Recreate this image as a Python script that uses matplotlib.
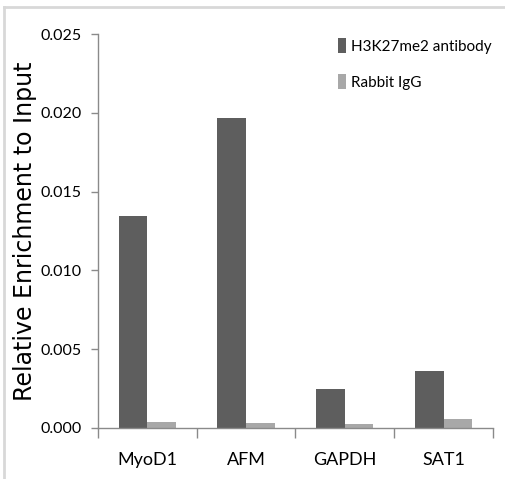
import numpy as np
import matplotlib
matplotlib.use('Agg')
import matplotlib.pyplot as plt
from matplotlib.lines import Line2D

# data
genes = ['MyoD1', 'AFM', 'GAPDH', 'SAT1']
h3k27me2 = [0.01345, 0.01966, 0.0025, 0.0036]
rabbitIgG = [0.00038, 0.00032, 0.00028, 0.0006]
yticks = [0.000, 0.005, 0.010, 0.015, 0.020, 0.025]

narrow = ['Lato', 'DejaVu Sans']

fig = plt.figure(figsize=(5.05, 4.79), dpi=100)
ax = fig.add_axes([0.194, 0.1065, 0.782, 0.8225])

x = np.arange(len(genes))
w = 0.29
ax.bar(x - w/2, h3k27me2, w, color='#5e5e5e', label='H3K27me2 antibody')
ax.bar(x + w/2, rabbitIgG, w, color='#a8a8a8', label='Rabbit IgG')

ax.set_xlim(-0.5, len(genes) - 0.5)
ax.set_ylim(0, 0.025)
ax.set_yticks(yticks)
ax.set_yticklabels(['%.3f' % v for v in yticks], family=narrow, fontsize=11.5)

# category labels in the middle, tick marks on the boundaries
ax.set_xticks(x)
ax.set_xticklabels(genes, family=narrow, fontsize=13)
ax.tick_params(axis='x', length=0, pad=17)
ax.set_xticks(np.arange(-0.5, len(genes), 1.0), minor=True)
ax.tick_params(axis='x', which='minor', length=7, color='#8a8a8a', width=1)
ax.tick_params(axis='y', length=5, color='#8a8a8a', width=1, pad=7)

for side in ['top', 'right']:
    ax.spines[side].set_visible(False)
for side in ['left', 'bottom']:
    ax.spines[side].set_color('#8a8a8a')
    ax.spines[side].set_linewidth(1)

ax.set_ylabel('Relative Enrichment to Input', family='DejaVu Sans', fontsize=17)
ax.yaxis.set_label_coords(-0.155, 0.5)

leg = ax.legend(loc='upper right', frameon=False, prop={'family': narrow, 'size': 11},
                handlelength=0.55, handleheight=1.15, handletextpad=0.3,
                labelspacing=1.3, borderaxespad=0.0, bbox_to_anchor=(1.012, 1.005))

# light frame around the figure (top and left only visible)
fig.add_artist(Line2D([4/505, 4/505], [0, 1 - 7/479], color='#d8d8d8', lw=2,
                      transform=fig.transFigure))
fig.add_artist(Line2D([4/505, 1], [1 - 7/479, 1 - 7/479], color='#d8d8d8', lw=2,
                      transform=fig.transFigure))

fig.savefig('out.png', dpi=100)
